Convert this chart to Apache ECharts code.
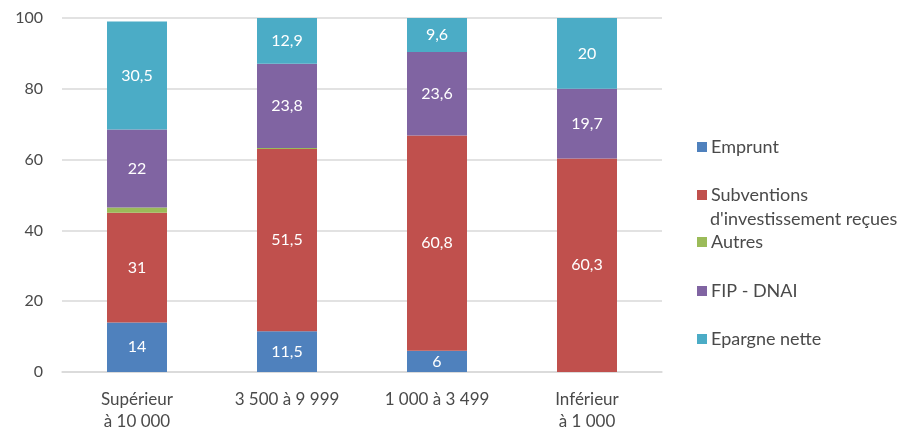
<!DOCTYPE html>
<html><head><meta charset="utf-8">
<script src="https://cdn.jsdelivr.net/npm/echarts@6/dist/echarts.min.js"></script>
<style>html,body{margin:0;padding:0;background:#fff}#c{width:905px;height:433px}</style>
</head><body><div id="c"></div>
<script>
const categories = ['Supérieur\nà 10 000', '3 500 à 9 999', '1 000 à 3 499', 'Inférieur\nà 1 000'];
const emprunt = [14, 11.5, 6, 0];
const subventions = [31, 51.5, 60.8, 60.3];
const autres = [1.5, 0.3, 0, 0];
const fipDnai = [22, 23.8, 23.6, 19.7];
const epargne = [30.5, 12.9, 9.6, 20];
const seriesNames = ['Emprunt', "Subventions d'investissement reçues", 'Autres', 'FIP - DNAI', 'Epargne nette'];
const colors = ['#4F81BD', '#C0504D', '#9BBB59', '#8064A2', '#4BACC6'];
const yTicks = [0, 20, 40, 60, 80, 100];

const FONT = 'Lato, "Open Sans", sans-serif';
const dataSets = [emprunt, subventions, autres, fipDnai, epargne];
const chart = echarts.init(document.getElementById('c'));
const legendTops = [133, 181, 228, 277, 325];
const series = dataSets.map((d, i) => ({
  name: seriesNames[i], type: 'bar', stack: 'total', barWidth: '40%',
  itemStyle: { color: colors[i] },
  data: d,
  label: {
    show: i !== 2, color: '#fff', fontSize: 16, fontFamily: FONT,
    formatter: p => p.value ? String(p.value).replace('.', ',') : ''
  }
}));
const legends = seriesNames.map((n, i) => ({
  data: [n], left: 692, top: legendTops[i], orient: 'vertical',
  itemWidth: 10, itemHeight: 10, itemGap: 0,
  icon: 'rect',
  formatter: i === 1 ? () => 'Subventions' : undefined,
  textStyle: { color: '#4a4a4a', fontSize: 18, fontFamily: FONT, padding: [0, 0, 0, -1] }
}));
chart.setOption({
  animation: false,
  color: colors,
  legend: legends,
  graphic: [{
    type: 'text', left: 710, top: 210,
    style: { text: "d'investissement reçues", fill: '#4a4a4a', fontSize: 18, fontFamily: FONT }
  }],
  grid: { left: 62, right: 243, top: 18, bottom: 61 },
  xAxis: {
    type: 'category', data: categories,
    axisTick: { show: false },
    axisLine: { lineStyle: { color: '#d9d9d9', width: 1.5 } },
    axisLabel: { color: '#4a4a4a', fontSize: 17, fontFamily: FONT, margin: 17, lineHeight: 22 }
  },
  yAxis: {
    type: 'value', min: yTicks[0], max: yTicks[yTicks.length - 1], interval: 20,
    axisLine: { show: false }, axisTick: { show: false },
    splitLine: { lineStyle: { color: '#d9d9d9', width: 1.5 } },
    axisLabel: { color: '#4a4a4a', fontSize: 16, fontFamily: FONT, margin: 19 }
  },
  series: series
});
</script></body></html>
